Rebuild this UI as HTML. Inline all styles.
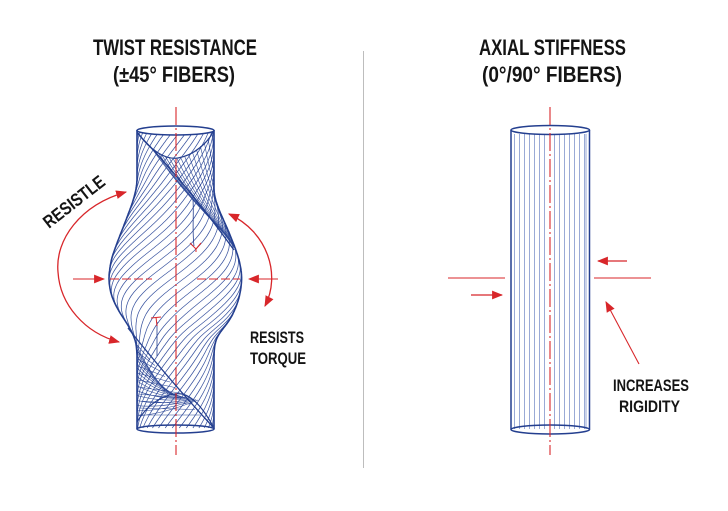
<!DOCTYPE html>
<html><head><meta charset="utf-8"><style>
html,body{margin:0;padding:0;background:#fff;}
body{width:728px;height:511px;overflow:hidden;}
svg{display:block;}
text{font-family:"Liberation Sans",sans-serif;font-weight:bold;fill:#141414;}
</style></head><body>
<svg id="s" width="728" height="511" viewBox="0 0 728 511" xmlns="http://www.w3.org/2000/svg">
<defs>
<marker id="ah" viewBox="0 0 10 8" refX="9" refY="4" markerWidth="11" markerHeight="9" markerUnits="userSpaceOnUse" orient="auto-start-reverse">
<path d="M0,0 L10,4 L0,8 z" fill="#d8262a"/>
</marker>
<clipPath id="cp"><path id="cpp" d="M137,128 L214,128 L214,430 L137,430 z"/></clipPath>
</defs>

<!-- divider -->
<line x1="363.5" y1="51" x2="363.5" y2="468" stroke="#bdbdbd" stroke-width="1"/>

<!-- titles -->
<text x="93" y="55" font-size="22" textLength="164" lengthAdjust="spacingAndGlyphs">TWIST RESISTANCE</text>
<text x="113" y="82" font-size="22" textLength="122" lengthAdjust="spacingAndGlyphs">(±45° FIBERS)</text>
<text x="479" y="55" font-size="22" textLength="147" lengthAdjust="spacingAndGlyphs">AXIAL STIFFNESS</text>
<text x="482" y="82" font-size="22" textLength="140" lengthAdjust="spacingAndGlyphs">(0°/90° FIBERS)</text>

<!-- LEFT: twisted cylinder -->
<g clip-path="url(#cp)">
<g id="fib" stroke="#3b55a0" stroke-width="0.75" fill="none"></g>
<g id="rib" stroke="#2f4a98" stroke-width="0.6" fill="none"></g>
</g>
<g id="outl" stroke="#243f8f" stroke-width="1.6" fill="none"></g>
<g stroke="#243f8f" fill="none">
<ellipse cx="175.5" cy="130.5" rx="38.5" ry="4.5" stroke-width="1.5" fill="#fff"/>
<path d="M138,133 C150,150 165,160 178,158 C195,155 208,142 213,132" stroke-width="1.3"/>
<path d="M138,134 Q185,182 234,250" stroke-width="1.3"/>
<path d="M128,328 Q165,375 213,427" stroke-width="1.3"/>
<path d="M137,422 C150,400 170,392 182,394 C195,397 205,412 213,426" stroke-width="1.2"/>
<ellipse cx="175.5" cy="429" rx="38.5" ry="4" stroke-width="1.5"/>
<path d="M193,200 C194,215 192,230 194,246" stroke-width="0.8"/>
<path d="M157,322 L157,356" stroke-width="0.8"/>
</g>
<!-- small red marks -->
<g stroke="#d8262a" stroke-width="1" fill="none">
<path d="M190,243 L196,249 L201,243 M196,249 L196,252"/>
<path d="M151,318 L161,317 M156,317 L157,326"/>
</g>
<!-- left axis -->
<line x1="176" y1="107" x2="176" y2="455" stroke="#d8262a" stroke-width="1.1" stroke-dasharray="18 3 2 3"/>
<!-- horizontal dashed -->
<g stroke="#d8262a" stroke-width="1.1">
<line x1="110" y1="279" x2="152" y2="279" stroke-dasharray="9 3"/>
<line x1="197" y1="279" x2="240" y2="279" stroke-dasharray="9 3"/>
<line x1="73" y1="279" x2="104" y2="279" marker-end="url(#ah)"/>
<line x1="278" y1="279" x2="249" y2="279" marker-end="url(#ah)"/>
</g>
<g stroke="#d8262a" stroke-width="1.3" fill="none">
<path d="M126,192 C80,205 55,240 58,272 C60,305 85,333 119,342" marker-start="url(#ah)" marker-end="url(#ah)"/>
<path d="M265,306 C281,275 268,232 229,214" marker-start="url(#ah)" marker-end="url(#ah)"/>
</g>
<text transform="translate(49,229) rotate(-38)" font-size="18" textLength="73" lengthAdjust="spacingAndGlyphs">RESISTLE</text>
<text x="250" y="343" font-size="17" textLength="54" lengthAdjust="spacingAndGlyphs">RESISTS</text>
<text x="250" y="364" font-size="17" textLength="56" lengthAdjust="spacingAndGlyphs">TORQUE</text>

<!-- RIGHT: straight cylinder -->
<g id="stripes" stroke="#8fa1d2" stroke-width="0.9"></g>
<g stroke="#243f8f" stroke-width="1.5" fill="none">
<line x1="511" y1="130" x2="511" y2="429.5"/>
<line x1="589.5" y1="130" x2="589.5" y2="429.5"/>
<ellipse cx="550.25" cy="130" rx="39.25" ry="4.5" fill="#fff"/>
<ellipse cx="550.25" cy="429.5" rx="39.25" ry="4.5"/>
</g>
<line x1="550" y1="107" x2="550" y2="455" stroke="#d8262a" stroke-width="1.1" stroke-dasharray="18 3 2 3"/>
<g stroke="#d8262a" stroke-width="1.1">
<line x1="448" y1="278" x2="505" y2="278"/>
<line x1="594" y1="278" x2="651" y2="278"/>
<line x1="627" y1="261" x2="598" y2="261" stroke-width="1.3" marker-end="url(#ah)"/>
<line x1="471" y1="295" x2="502" y2="295" stroke-width="1.3" marker-end="url(#ah)"/>
<line x1="639" y1="364" x2="606" y2="302" marker-end="url(#ah)"/>
</g>
<text x="613" y="391" font-size="17" textLength="76" lengthAdjust="spacingAndGlyphs">INCREASES</text>
<text x="619" y="412" font-size="17" textLength="61" lengthAdjust="spacingAndGlyphs">RIGIDITY</text>
</svg>
<script>
(function(){
var NS="http://www.w3.org/2000/svg";
function P(g,d){var p=document.createElementNS(NS,"path");p.setAttribute("d",d);document.getElementById(g).appendChild(p);}
var L=[[128,137],[185,137],[200,133.5],[220,126],[243,117],[260,111],[279,108.5],[295,111],[310,118],[325,128],[338,135],[350,137],[430,137]];
var R=[[128,214],[195,214],[210,219],[230,228],[250,236],[265,240.5],[279,242],[295,240],[310,235],[323,228],[333,219],[342,215],[352,214],[430,214]];
function lin(A,y){for(var i=0;i<A.length-1;i++){if(y<=A[i+1][0]){var t=(y-A[i][0])/(A[i+1][0]-A[i][0]);return A[i][1]+t*(A[i+1][1]-A[i][1]);}}return A[A.length-1][1];}
var Y0=128,Y1=430,xl=[],xr=[];
for(var y=Y0;y<=Y1;y++){xl.push(lin(L,y));xr.push(lin(R,y));}
function sm(a,w){var o=[];for(var i=0;i<a.length;i++){var s=0,n=0;for(var j=i-w;j<=i+w;j++){var k=Math.min(a.length-1,Math.max(0,j));s+=a[k];n++;}o.push(s/n);}return o;}
var sl=sm(xl,7),sr=sm(xr,7);
// outline + clip
var dl="",dr="",cl="",crr="";
for(var k=2;k<sl.length-1;k++){var yy=Y0+k;dl+=(k==2?"M":"L")+sl[k].toFixed(1)+","+yy+" ";dr+=(k==2?"M":"L")+sr[k].toFixed(1)+","+yy+" ";}
P("outl",dl);P("outl",dr);
var cp="M"+sl[0].toFixed(1)+","+Y0;
for(var k1=0;k1<sl.length;k1++){cp+=" L"+sl[k1].toFixed(1)+","+(Y0+k1);}
for(var k1b=sr.length-1;k1b>=0;k1b--){cp+=" L"+sr[k1b].toFixed(1)+","+(Y0+k1b);}
cp+=" Z";
document.getElementById("cpp").setAttribute("d",cp);
// helical fibers (front side)
var d="",N=34,w=-0.02;
for(var i=0;i<N;i++){
 var ph=2*Math.PI*i/N,pen=false;
 for(var y2=Y0+4;y2<=Y1-2;y2+=1){
  var k2=y2-Y0,c=(sl[k2]+sr[k2])/2,r=(sr[k2]-sl[k2])/2,th=ph+w*(y2-Y0);
  if(Math.cos(th)>0.02){var x=c+r*Math.sin(th);d+=(pen?"L":"M")+x.toFixed(1)+","+y2+" ";pen=true;}else pen=false;
 }
}
P("fib",d);
// top ribbon
var dt="";
for(var k3=0;k3<=16;k3++){var t=k3/16,sx=150+t*62,sy=132+27*Math.sin(Math.PI*(sx-137)/77),ex=222+t*12,ey=230+t*18;
 var qx=(sx+ex)/2-4,qy=(sy+ey)/2+4;
 dt+="M"+sx.toFixed(1)+","+sy.toFixed(1)+" Q"+qx.toFixed(1)+","+qy.toFixed(1)+" "+ex.toFixed(1)+","+ey.toFixed(1)+" ";}
P("rib",dt);
// bottom ribbon
var db="";
for(var k4=0;k4<=16;k4++){var t2=k4/16,sx2=131+t2*6,sy2=332+t2*84,ex2=168+t2*30,ey2=394+t2*6;
 var qx2=(sx2+ex2)/2-4,qy2=(sy2+ey2)/2+6;
 db+="M"+sx2.toFixed(1)+","+sy2.toFixed(1)+" Q"+qx2.toFixed(1)+","+qy2.toFixed(1)+" "+ex2.toFixed(1)+","+ey2.toFixed(1)+" ";}
for(var k5=0;k5<=10;k5++){var t3=k5/10,ax=137+t3*2,ay=345+t3*70,bx=150+t3*50,by=360+t3*55;
 db+="M"+ax.toFixed(1)+","+ay.toFixed(1)+" L"+bx.toFixed(1)+","+by.toFixed(1)+" ";}
P("rib",db);
// right stripes
var ds="";
for(var m=0;m<14;m++){var sxx=519.5+5*m; if(Math.abs(sxx-549.5)<1)continue; ds+="M"+sxx+",134 L"+sxx+",429 ";}
ds+="M514.5,134 L514.5,429 M586,134 L586,429 ";
P("stripes",ds);
})();
</script>
</body></html>
